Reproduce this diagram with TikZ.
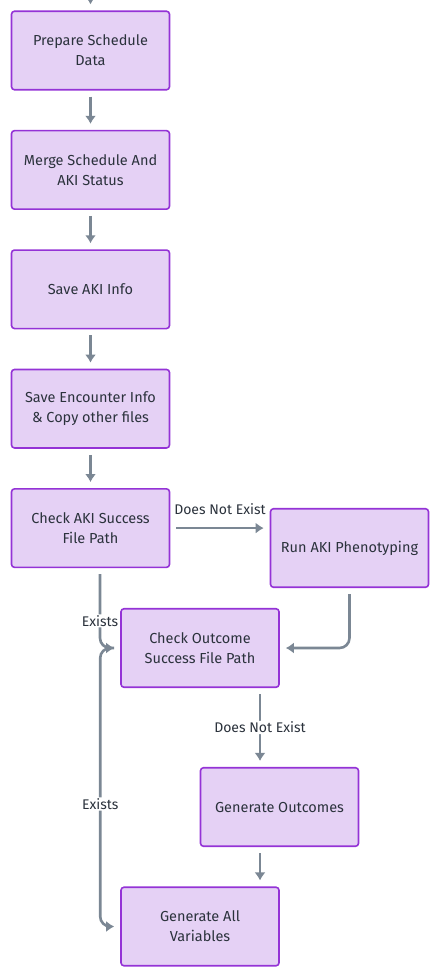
\documentclass[tikz,border=0pt]{standalone}
\usepackage{fontspec}
\setmainfont{Fira Sans}
\usetikzlibrary{arrows.meta}
\usetikzlibrary{positioning}
\definecolor{mfill}{HTML}{E5D1F5}
\definecolor{mborder}{HTML}{9433D6}
\definecolor{mline}{HTML}{7B8794}
\definecolor{mtext}{HTML}{2B323C}

\begin{document}
\begin{tikzpicture}[x=1pt, y=-1pt,
    box/.style={draw=mborder, fill=mfill, line width=1.6pt, rounded corners=3pt,
      minimum width=158pt, minimum height=78.5pt, inner sep=0pt, align=center,
      text=mtext, font=\fontsize{14.5}{20}\selectfont},
    link/.style={draw=mline, line width=2.6pt, -{Latex[length=8pt, width=11pt]},
      shorten <=6pt, shorten >=6pt, rounded corners=10pt},
    tag/.style={fill=white, text=mtext, font=\fontsize{14}{16}\selectfont, inner sep=1pt}]
    \useasboundingbox (0, 0) rectangle (445, 980);

    \node [box] (prep) at (90.5, 50.5) {Prepare Schedule\\Data};
    \node [box, below=39.3pt of prep] (merge) {Merge Schedule And\\AKI Status};
    \node [box, below=39.3pt of merge] (akiinfo) {Save AKI Info};
    \node [box, below=39.3pt of akiinfo] (encinfo) {Save Encounter Info\\\& Copy other files};
    \node [box, below=39.3pt of encinfo] (chkaki) {Check AKI Success\\File Path};
    \node [box] (runaki) at (349.5, 548) {Run AKI Phenotyping};
    \node [box] (chkout) at (200, 648) {Check Outcome\\Success File Path};
    \node [box] (genout) at (279.5, 807) {Generate Outcomes};
    \node [box] (genall) at (200, 926.5) {Generate All\\Variables};

    \draw [link, shorten <=0pt] (prep.north) ++(0, -20) -- (prep);
    \draw [link] (prep) -- (merge);
    \draw [link] (merge) -- (akiinfo);
    \draw [link] (akiinfo) -- (encinfo);
    \draw [link] (encinfo) -- (chkaki);
    \draw [link] (chkaki) -- (runaki.west |- chkaki)
      node [midway, above=11pt, tag, fill=none] {Does Not Exist};
    \draw [link] (runaki) |- (chkout);
    \draw [link] ([xshift=9.5pt]chkaki.south) |- (chkout.west)
      node [pos=0.33, tag] {Exists};
    \draw [link] ([xshift=60pt]chkout.south) -- ([xshift=-19.5pt]genout.north)
      node [midway, tag] {Does Not Exist};
    \draw [link] ([xshift=-19.5pt]genout.south) -- ([xshift=60pt]genall.north);
    \draw [link] (chkout.west) -| ([xshift=-20pt]genall.west)
      node [pos=0.78, tag] {Exists} -- (genall.west);
  \end{tikzpicture}
\end{document}
